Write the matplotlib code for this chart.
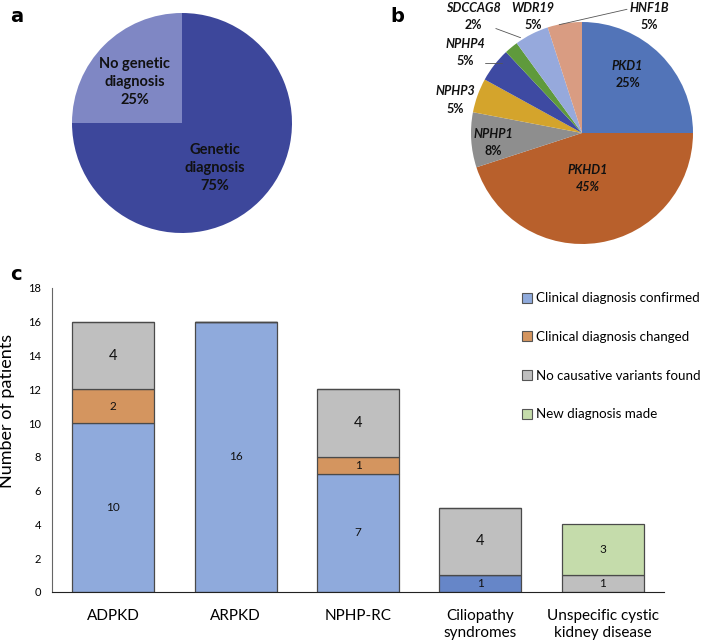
import matplotlib.pyplot as plt
from matplotlib.patches import Patch

plt.rcParams['font.family'] = ['Lato', 'DejaVu Sans']

# panel a
diag_labels = ['Genetic\ndiagnosis', 'No genetic\ndiagnosis']
diag_pct = [75, 25]

# panel b
genes = ['PKD1', 'PKHD1', 'NPHP1', 'NPHP3', 'NPHP4', 'SDCCAG8', 'WDR19', 'HNF1B']
gene_pct = [25, 45, 8, 5, 5, 2, 5, 5]

# panel c
categories = ['ADPKD', 'ARPKD', 'NPHP-RC', 'Ciliopathy\nsyndromes', 'Unspecific cystic\nkidney disease']
confirmed = [10, 16, 7, 1, 0]
changed = [2, 0, 1, 0, 0]
no_variant = [4, 0, 4, 4, 1]
new_diag = [0, 0, 0, 0, 3]
series_names = ['Clinical diagnosis confirmed', 'Clinical diagnosis changed',
                'No causative variants found', 'New diagnosis made']

W, H = 705, 644
fig = plt.figure(figsize=(W / 100, H / 100), dpi=100)


def px_axes(cx, cy, r):
    return fig.add_axes([(cx - r) / W, (H - cy - r) / H, 2 * r / W, 2 * r / H])


# ---- pie a
ax_a = px_axes(182, 123, 110)
ax_a.pie(diag_pct, colors=['#3d479b', '#7f87c4'], startangle=90, counterclock=False,
         wedgeprops=dict(linewidth=0))
ax_a.set_xlim(-1, 1)
ax_a.set_ylim(-1, 1)
ax_a.set_aspect('equal')
for lab, p, (x, y) in zip(diag_labels, diag_pct, [(0.30, -0.41), (-0.43, 0.37)]):
    ax_a.text(x, y, f'{lab}\n{p}%', ha='center', va='center',
              fontsize=10.5, fontweight='bold', color='#111111', linespacing=1.35)

# ---- pie b
gene_colors = ['#5274b8', '#b8602c', '#8e8e8e', '#d4a42c', '#3e4aa2', '#5f9a3c', '#96a9dc', '#d99c82']
ax_b = px_axes(582, 133, 111)
ax_b.pie(gene_pct, colors=gene_colors, startangle=90, counterclock=False,
         wedgeprops=dict(linewidth=0))
ax_b.set_xlim(-1, 1)
ax_b.set_ylim(-1, 1)
ax_b.set_aspect('equal')

gene_text_pos = {
    'PKD1': (0.41, 0.53), 'PKHD1': (0.05, -0.41), 'NPHP1': (-0.80, -0.08),
    'NPHP3': (-1.14, 0.30), 'NPHP4': (-1.05, 0.73), 'SDCCAG8': (-0.98, 1.05),
    'WDR19': (-0.44, 1.05), 'HNF1B': (0.61, 1.05),
}
for g, p in zip(genes, gene_pct):
    x, y = gene_text_pos[g]
    ax_b.text(x, y + 0.075, g, ha='center', va='center', fontsize=9, fontweight='bold',
              style='italic', color='#111111')
    ax_b.text(x, y - 0.08, f'{p}%', ha='center', va='center', fontsize=9, fontweight='bold',
              style='italic' if g == 'PKHD1' else 'normal', color='#111111')

# leader lines
ax_b.annotate('', xy=(-0.70, 0.64), xytext=(-0.90, 0.63),
              arrowprops=dict(arrowstyle='-', color='#555555', lw=0.6,
                              connectionstyle='angle,angleA=0,angleB=45,rad=0'))
ax_b.annotate('', xy=(-0.53, 0.85), xytext=(-0.80, 0.95),
              arrowprops=dict(arrowstyle='-', color='#555555', lw=0.6))
ax_b.annotate('', xy=(-0.23, 0.97), xytext=(0.43, 1.12),
              arrowprops=dict(arrowstyle='-', color='#555555', lw=0.6))

# ---- bars c
ax_c = fig.add_axes([52 / W, (H - 592) / H, 612 / W, (592 - 288) / H])
xpos = range(len(categories))
conf_colors = ['#8faadc', '#8faadc', '#8faadc', '#6686c8', '#8faadc']
series = [confirmed, changed, no_variant, new_diag]
colors = ['#8faadc', '#d4955f', '#bfbfbf', '#c5dcab']
bottom = [0] * len(categories)
for vals, col, name in zip(series, colors, series_names):
    fc = conf_colors if vals is confirmed else col
    bars = ax_c.bar(xpos, vals, width=0.67, bottom=bottom, color=fc,
                    edgecolor='#4a4a4a', linewidth=0.9, label=name)
    txts = ax_c.bar_label(bars, labels=[str(v) if v else '' for v in vals],
                          label_type='center', fontsize=8.5, color='#111111')
    for t, v in zip(txts, vals):
        if v == 4:
            t.set_fontsize(10.5)
    bottom = [b + v for b, v in zip(bottom, vals)]

ax_c.set_xlim(-0.5, 4.5)
ax_c.set_ylim(0, 18)
ax_c.set_yticks(range(0, 19, 2))
ax_c.set_xticks(list(xpos))
ax_c.set_xticklabels(categories, fontsize=11, linespacing=1.3)
ax_c.tick_params(axis='y', length=0, labelsize=8, pad=8)
ax_c.tick_params(axis='x', length=0, pad=12)
for s in ['top', 'right']:
    ax_c.spines[s].set_visible(False)
ax_c.spines['left'].set_color('#666666')
ax_c.spines['bottom'].set_color('#222222')
ax_c.set_ylabel('Number of patients', fontsize=13, labelpad=6)
ax_c.yaxis.set_label_coords(-0.06, 0.595)

handles = [Patch(facecolor=c, edgecolor='#555555', linewidth=0.8) for c in colors]
fig.legend(handles, series_names, loc='upper left', bbox_to_anchor=(517 / W, 1 - 287 / H),
           frameon=False, fontsize=9.6, labelspacing=2.0, handlelength=0.75, handleheight=0.75,
           handletextpad=0.3, borderaxespad=0)

# panel letters
for letter, x, y in [('a', 10, 22), ('b', 390, 22), ('c', 10, 280)]:
    fig.text(x / W, 1 - y / H, letter, fontsize=14, fontweight='bold', family='DejaVu Sans')

fig.savefig('out.png', dpi=100)
